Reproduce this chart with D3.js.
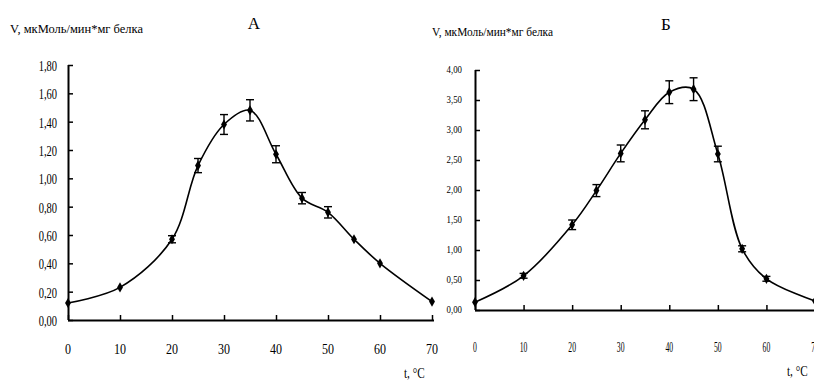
<!DOCTYPE html>
<html>
<head>
<meta charset="utf-8">
<script src="https://cdn.jsdelivr.net/npm/d3@7"></script>
<style>
  body { margin: 0; background: #fff; }
  svg { display: block; }
</style>
</head>
<body>
<div id="container"></div>
<script>
// данные, панель А
const tempA = [0, 10, 20, 25, 30, 35, 40, 45, 50, 55, 60, 70];
const valA = [0.12, 0.23, 0.57, 1.09, 1.38, 1.48, 1.17, 0.86, 0.76, 0.57, 0.40, 0.13];
const errA = [0.01, 0.015, 0.025, 0.05, 0.07, 0.075, 0.06, 0.04, 0.04, 0.02, 0.015, 0.01];
const yTicksA = [0, 0.2, 0.4, 0.6, 0.8, 1.0, 1.2, 1.4, 1.6, 1.8];

// данные, панель Б
const tempB = [0, 10, 20, 25, 30, 35, 40, 45, 50, 55, 60, 70];
const valB = [0.13, 0.57, 1.42, 1.99, 2.61, 3.17, 3.63, 3.68, 2.6, 1.02, 0.52, 0.15];
const errB = [0.02, 0.04, 0.08, 0.1, 0.14, 0.15, 0.19, 0.19, 0.13, 0.05, 0.04, 0.02];
const yTicksB = [0, 0.5, 1.0, 1.5, 2.0, 2.5, 3.0, 3.5, 4.0];

const xTicks = [0, 10, 20, 30, 40, 50, 60, 70];

const FONT = '"Liberation Serif", "Times New Roman", "DejaVu Serif", serif';
const fmt = d3.formatLocale({ decimal: ',', thousands: ' ', grouping: [3], currency: ['', ''] }).format('.2f');

const svg = d3.select('#container').append('svg')
  .attr('width', 814).attr('height', 381)
  .attr('font-family', FONT);

// сжатый по горизонтали текст
function squeeze(sel, fx, sx) {
  sel.attr('transform', (d, i) => {
    const cx = fx(d, i);
    return `translate(${cx},0) scale(${sx},1) translate(${-cx},0)`;
  });
}

function panel(opt) {
  const x = d3.scaleLinear().domain([0, 70]).range(opt.xr);
  const y = d3.scaleLinear().domain(opt.yd).range(opt.yr);
  const g = svg.append('g');

  // ось Y
  const ay = g.append('g').attr('transform', `translate(${opt.xr[0]},0)`)
    .call(d3.axisRight(y).tickValues(opt.yTicks).tickSize(5).tickFormat(''));
  ay.select('.domain').attr('stroke-width', 2).attr('d', `M0.5,${opt.yr[1]}V${opt.yr[0]}`);
  ay.selectAll('.tick line').attr('stroke-width', 1.5);

  const lx = opt.xr[0] - opt.labOff;
  g.selectAll('.ylab').data(opt.yTicks).enter().append('text')
    .attr('x', lx).attr('y', d => y(d) + opt.yDy)
    .attr('text-anchor', 'end')
    .attr('font-family', FONT)
    .style('font-size', opt.yfs + 'px')
    .call(squeeze, () => lx, opt.ysx)
    .text(d => fmt(d));

  // ось X
  const ax = g.append('g').attr('transform', `translate(0,${opt.yr[0]})`)
    .call(d3.axisTop(x).tickValues(xTicks).tickSize(5).tickFormat(''));
  ax.select('.domain').attr('stroke-width', 2).attr('d', `M${opt.xr[0]},0.5H${opt.xEnd}`);
  ax.selectAll('.tick line').attr('stroke-width', 1.5);

  g.selectAll('.xlab').data(xTicks).enter().append('text')
    .attr('x', d => x(d)).attr('y', opt.xly)
    .attr('text-anchor', 'middle')
    .attr('font-family', FONT)
    .style('font-size', opt.xfs + 'px')
    .call(squeeze, d => x(d), opt.xsx)
    .text(d => d);

  // кривая
  const pts = opt.t.map((t, i) => [t, opt.v[i], opt.e[i]]);
  g.append('path').datum(pts)
    .attr('fill', 'none').attr('stroke', '#000').attr('stroke-width', 1.6)
    .attr('d', d3.line().x(d => x(d[0])).y(d => y(d[1])).curve(d3.curveCatmullRom.alpha(0.5)));

  // планки погрешностей
  const eb = g.selectAll('.err').data(pts.filter(d => d[2] > 0.02)).enter().append('g')
    .attr('stroke', '#000').attr('stroke-width', 1.4);
  eb.append('line').attr('x1', d => x(d[0])).attr('x2', d => x(d[0]))
    .attr('y1', d => y(d[1] - d[2])).attr('y2', d => y(d[1] + d[2]));
  eb.append('line').attr('x1', d => x(d[0]) - 4).attr('x2', d => x(d[0]) + 4)
    .attr('y1', d => y(d[1] + d[2])).attr('y2', d => y(d[1] + d[2]));
  eb.append('line').attr('x1', d => x(d[0]) - 4).attr('x2', d => x(d[0]) + 4)
    .attr('y1', d => y(d[1] - d[2])).attr('y2', d => y(d[1] - d[2]));

  // маркеры
  g.selectAll('.pt').data(pts).enter().append('path')
    .attr('d', d3.symbol().type(d3.symbolDiamond).size(30))
    .attr('transform', d => `translate(${x(d[0])},${y(d[1])})`)
    .attr('fill', '#000');

  // подписи
  g.append('text').attr('x', opt.ylx).attr('y', opt.yly)
    .attr('font-family', FONT)
    .style('font-size', '13px')
    .attr('textLength', opt.ylw).attr('lengthAdjust', 'spacingAndGlyphs')
    .text('V, мкМоль/мин*мг белка');
  g.append('text').attr('x', opt.tx).attr('y', opt.ty)
    .attr('font-family', FONT)
    .attr('text-anchor', 'middle').style('font-size', '17px')
    .text(opt.title);
  g.append('text').attr('x', opt.ux).attr('y', opt.uy)
    .attr('font-family', FONT)
    .style('font-size', '14px')
    .call(squeeze, () => opt.ux, 0.8)
    .text('t, °C');
}

panel({
  t: tempA, v: valA, e: errA, yTicks: yTicksA,
  xr: [68, 432], xEnd: 434, yd: [0, 1.8], yr: [320, 65],
  labOff: 11, yfs: 14, ysx: 0.75, yDy: 6,
  xfs: 15, xsx: 0.8, xly: 354,
  ylx: 10, yly: 33, ylw: 133,
  tx: 254, ty: 29, title: 'А',
  ux: 404, uy: 378
});

panel({
  t: tempB, v: valB, e: errB, yTicks: yTicksB,
  xr: [475, 815], xEnd: 814, yd: [0, 4], yr: [310, 70],
  labOff: 13, yfs: 11, ysx: 0.8, yDy: 3,
  xfs: 14, xsx: 0.55, xly: 352,
  ylx: 432, yly: 36, ylw: 121,
  tx: 666, ty: 30, title: 'Б',
  ux: 787, uy: 376
});
</script>
</body>
</html>
